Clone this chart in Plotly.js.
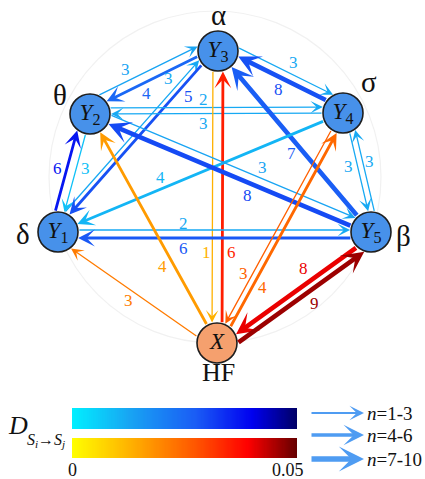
<!DOCTYPE html>
<html><head><meta charset="utf-8">
<script src="https://cdn.plot.ly/plotly-3.0.1.min.js"></script>
<style>html,body{margin:0;padding:0;background:#fff}#chart{width:425px;height:479px}</style>
</head><body><div id="chart"></div>
<script>
// ---------------- data ----------------
const nodeIds   = ['Y1','Y2','Y3','Y4','Y5','X'];
const nodeNames = ['δ','θ','α','σ','β','HF'];
const edgeFrom = ['Y2','Y3','Y1','Y3','Y2','Y4','Y3','Y4','Y5','X','Y3','Y1','Y2','Y4','Y1','Y5','Y2','Y5','Y4','Y5','X','X','Y4','X','Y5','X'];
const edgeTo   = ['Y3','Y2','Y3','Y1','Y4','Y2','Y4','Y3','Y3','Y3','X','Y2','Y1','Y1','Y5','Y1','Y5','Y2','Y5','Y4','Y2','Y1','X','Y4','X','Y5'];
const edgeN    = [3,4,3,5,2,3,3,8,7,6,1,6,3,4,2,6,3,8,3,3,4,3,3,4,8,9];
const edgeD    = [0.013,0.025,0.012,0.029,0.012,0.012,0.012,0.029,0.027,0.035,0.013,0.037,0.008,0.010,0.012,0.028,0.013,0.030,0.012,0.012,0.0165,0.0215,0.026,0.0245,0.0405,0.046];
const colorTicks    = [0, 0.05];
const colorTickText = ['0', '0.05'];
const nBins = ['1-3', '4-6', '7-10'];

// ---------------- layout / style (not data) ----------------
const nodePos = {Y1:[58,232], Y2:[90,114], Y3:[218,51], Y4:[343,113], Y5:[371,232], X:[217,343]};
const nameOffset = {Y1:[-35,2], Y2:[-30,-19], Y3:[0,-36], Y4:[26,-31], Y5:[32,4], X:[1,29]};
const edgeOff = [-13,4,-8,3,-6,0,-12,4,0,5,5,-8,-1,0,-2,-6,-7,-2,-2,8,0,-6,2,4,-4,12];
const labT = [0.36,0.58,0.78,0.22,0.45,0.55,0.52,0.49,0.47,0.31,0.69,0.50,0.44,0.625,0.40,0.60,0.59,0.42,0.44,0.56,0.357,0.50,0.72,0.27,0.40,0.535];
const labP = [-24,-7,-19,-8,-14,-10,-23,-8,-10,14,11,-17,-10,11,-9,-16,-17,-14,7,15,-10,-16,10,13,10,25];
const R = 20;
const SERIF = '"Liberation Serif", "Times New Roman", serif';
const blueScale   = [[0,'#00f0ff'],[0.25,'#18a6f3'],[0.55,'#1a5cf5'],[0.8,'#0000f0'],[1,'#000064']];
const orangeScale = [[0,'#ffff00'],[0.3,'#ffa500'],[0.55,'#ff5500'],[0.78,'#ff0000'],[1,'#640000']];
const DMAX = 0.05;

function hex2rgb(h){return [parseInt(h.slice(1,3),16),parseInt(h.slice(3,5),16),parseInt(h.slice(5,7),16)];}
function colorAt(scale, v){
  const t = Math.max(0, Math.min(1, v / DMAX));
  for (let i = 1; i < scale.length; i++) {
    if (t <= scale[i][0]) {
      const a = scale[i-1], b = scale[i];
      const f = (t - a[0]) / (b[0] - a[0]);
      const ca = hex2rgb(a[1]), cb = hex2rgb(b[1]);
      const c = ca.map((x, k) => Math.round(x + (cb[k] - x) * f));
      return 'rgb(' + c.join(',') + ')';
    }
  }
  return scale[scale.length-1][1];
}
function widthFor(n){ return n <= 3 ? 1.3 : (n <= 6 ? 2.8 : 4.6); }
function headFor(n){ return n <= 3 ? 1.6 : (n <= 6 ? 1.0 : 0.8); }

const annotations = [];
const shapes = [{type:'circle', xref:'x', yref:'y', x0:215-166, x1:215+166, y0:177-166, y1:177+166,
  line:{color:'#f1f1f1', width:1.2}, layer:'below'}];

// edges
edgeFrom.forEach((f, i) => {
  const A = nodePos[f], B = nodePos[edgeTo[i]];
  const dx = B[0]-A[0], dy = B[1]-A[1], L = Math.hypot(dx, dy);
  const u = [dx/L, dy/L], nr = [-u[1], u[0]];
  const off = edgeOff[i];
  const s = Math.sqrt(Math.max(R*R - off*off, 0));
  const tail = [A[0] + nr[0]*off + u[0]*s, A[1] + nr[1]*off + u[1]*s];
  const tip  = [B[0] + nr[0]*off - u[0]*(s+1), B[1] + nr[1]*off - u[1]*(s+1)];
  const isX = (f === 'X' || edgeTo[i] === 'X');
  const col = colorAt(isX ? orangeScale : blueScale, edgeD[i]);
  annotations.push({xref:'x', yref:'y', axref:'x', ayref:'y', x:tip[0], y:tip[1], ax:tail[0], ay:tail[1],
    text:'', showarrow:true, arrowhead:3, arrowsize:headFor(edgeN[i]), arrowwidth:widthFor(edgeN[i]), arrowcolor:col});
  const lp = [A[0] + u[0]*labT[i]*L + nr[0]*labP[i], A[1] + u[1]*labT[i]*L + nr[1]*labP[i]];
  annotations.push({xref:'x', yref:'y', x:lp[0], y:lp[1], text:String(edgeN[i]), showarrow:false,
    font:{family:SERIF, size:17, color:col}, xanchor:'center', yanchor:'middle'});
});

// node names (greek)
nodeIds.forEach((id, i) => {
  const p = nodePos[id], o = nameOffset[id];
  annotations.push({xref:'x', yref:'y', x:p[0]+o[0], y:p[1]+o[1], text:nodeNames[i], showarrow:false,
    font:{family:SERIF, size: id === 'X' ? 26 : 29, color:'#111'}, xanchor:'center', yanchor:'middle'});
});

// colorbar labels
annotations.push({xref:'paper', yref:'paper', x:18/425, y:1-425/479, text:'<i>D</i>', showarrow:false,
  font:{family:SERIF, size:26, color:'#111'}, xanchor:'center', yanchor:'middle'});
annotations.push({xref:'paper', yref:'paper', x:46/425, y:1-440/479, text:'<i>S</i><sub><i>i</i></sub>→<i>S</i><sub><i>j</i></sub>', showarrow:false,
  font:{family:SERIF, size:16, color:'#111'}, xanchor:'center', yanchor:'middle'});
colorTicks.forEach((v, i) => {
  annotations.push({xref:'x2', yref:'paper', x:v, y:1-470/479, text:colorTickText[i], showarrow:false,
    xshift: i === 0 ? 0 : -9, font:{family:SERIF, size:18, color:'#111'}, xanchor:'center', yanchor:'middle'});
});

// width legend
const legY = [413, 435, 459], legW = [1.8, 3.6, 5.6], legS = [1.35, 0.95, 0.75];
nBins.forEach((b, i) => {
  annotations.push({xref:'x', yref:'y', axref:'x', ayref:'y', x:364, y:legY[i], ax:310, ay:legY[i], text:'',
    showarrow:true, arrowhead:3, arrowsize:legS[i], arrowwidth:legW[i], arrowcolor:'#4f9cf2'});
  annotations.push({xref:'x', yref:'y', x:365, y:legY[i], text:'<i>n</i>=' + b, showarrow:false,
    font:{family:SERIF, size:19, color:'#111'}, xanchor:'left', yanchor:'middle'});
});

// node trace
const nodeTrace = {
  type:'scatter', mode:'markers+text', xaxis:'x', yaxis:'y',
  x: nodeIds.map(id => nodePos[id][0]), y: nodeIds.map(id => nodePos[id][1]),
  text: nodeIds.map(id => id === 'X' ? '<i>X</i>' : '<i>Y</i><sub>' + id.slice(1) + '</sub>'),
  textposition:'middle center',
  textfont:{family:SERIF, size:23, color:'#111'},
  marker:{size:40, color: nodeIds.map(id => id === 'X' ? '#f5a06e' : '#4791ea'), line:{color:'#1e1e1e', width:1.6}},
  hoverinfo:'skip', cliponaxis:false
};

// colorbars
const NB = 200;
const cx = Array.from({length:NB}, (_, k) => (k + 0.5) / NB * DMAX);
const barBlue = {type:'heatmap', xaxis:'x2', yaxis:'y2', x:cx, y:[0], z:[cx], zmin:0, zmax:DMAX,
  colorscale:blueScale, showscale:false, hoverinfo:'skip'};
const barOrange = {type:'heatmap', xaxis:'x2', yaxis:'y3', x:cx, y:[0], z:[cx], zmin:0, zmax:DMAX,
  colorscale:orangeScale, showscale:false, hoverinfo:'skip'};

const layout = {
  width:425, height:479, margin:{l:0, r:0, t:0, b:0},
  paper_bgcolor:'#fff', plot_bgcolor:'rgba(0,0,0,0)', showlegend:false,
  font:{family:SERIF},
  xaxis:{range:[0,425], visible:false, fixedrange:true},
  yaxis:{range:[479,0], visible:false, fixedrange:true},
  xaxis2:{domain:[72/425, 297/425], range:[0, DMAX], anchor:'y3', visible:false},
  yaxis2:{domain:[1-429/479, 1-408/479], range:[-0.5,0.5], anchor:'x2', visible:false},
  yaxis3:{domain:[1-458/479, 1-438/479], range:[-0.5,0.5], anchor:'x2', visible:false},
  shapes: shapes, annotations: annotations
};

Plotly.newPlot('chart', [barBlue, barOrange, nodeTrace], layout, {staticPlot:true});
</script>
</body></html>
